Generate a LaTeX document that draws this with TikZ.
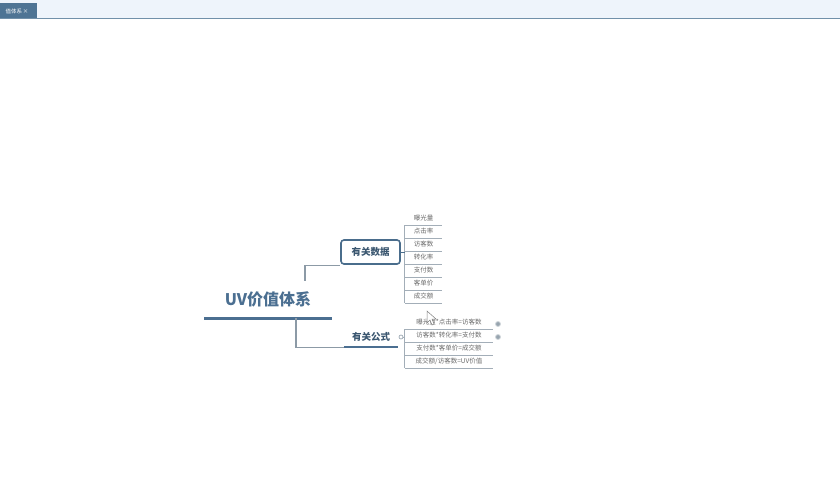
\documentclass[tikz,border=0pt]{standalone}
\usepackage{fontspec}
\newfontfamily\cjk{Noto Sans CJK SC}
\definecolor{tabblue}{HTML}{4E7494}
\definecolor{barblue}{HTML}{EEF4FB}
\definecolor{titleblue}{HTML}{4B6F91}
\definecolor{boxblue}{HTML}{4A6D8C}
\definecolor{conngray}{HTML}{8C9AA6}
\definecolor{leafgray}{HTML}{6A6A6A}
\tikzset{
  conn/.style={draw=conngray, line width=1.1pt},
  leafline/.style={draw=conngray!80, line width=0.8pt},
  leaf/.style={inner sep=0pt, minimum height=13pt, font=\cjk\fontsize{6.5}{7}\selectfont, text=leafgray},
  handle/.style={circle, inner sep=0pt, minimum size=4pt, draw=conngray, fill=white, line width=0.6pt},
}
\begin{document}
\begin{tikzpicture}[x=1pt,y=-1pt]
\useasboundingbox (0,0) rectangle (840,480);
\fill[white] (0,0) rectangle (840,480);
% window tab bar
\fill[barblue] (0,0) rectangle (840,18);
\draw[tabblue!80, line width=1.5pt] (0,18.5) -- (840,18.5);
\fill[tabblue] (0,3) rectangle (37,18);
\node[text=white, font=\cjk\fontsize{5.5}{6}\selectfont, inner sep=0pt] (tab) at (17,11){值体系\,×};
% central topic
\node[inner sep=0pt, minimum width=127pt, minimum height=37pt, font=\cjk\bfseries\fontsize{16}{18}\selectfont, text=titleblue] (root) at (268,299.5){UV价值体系};
\draw[titleblue, line width=2.6pt] (root.south west) -- (root.south east);
% branch topics
\node[draw=boxblue, line width=1.6pt, rounded corners=3pt, minimum width=59pt, minimum height=24pt, inner sep=0pt, font=\cjk\bfseries\fontsize{9.5}{10}\selectfont, text=boxblue!80!black] (data) at (370.5,252){有关数据};
\node[inner sep=0pt, minimum width=54pt, minimum height=20pt, font=\cjk\bfseries\fontsize{9.5}{10}\selectfont, text=boxblue!80!black] (formula) at (371,337){有关公式};
\draw[titleblue, line width=1.6pt] (formula.south west) -- (formula.south east);
\draw[conn] ([xshift=37pt]root.north) |- ([yshift=-1pt]data.south west);
\draw[conn] ([xshift=28pt]root.south) |- (formula.south west);
% data leaves
\node[leaf, minimum width=37pt] (d1) at (423.5,218.5){曝光量};
\node[leaf, minimum width=37pt] (d2) at (423.5,231.5){点击率};
\node[leaf, minimum width=37pt] (d3) at (423.5,244.5){访客数};
\node[leaf, minimum width=37pt] (d4) at (423.5,257.5){转化率};
\node[leaf, minimum width=37pt] (d5) at (423.5,270.5){支付数};
\node[leaf, minimum width=37pt] (d6) at (423.5,283.5){客单价};
\node[leaf, minimum width=37pt] (d7) at (423.5,296.5){成交额};
\draw[leafline](d1.south west) -- (d1.south east);
\draw[leafline](d2.south west) -- (d2.south east);
\draw[leafline](d3.south west) -- (d3.south east);
\draw[leafline](d4.south west) -- (d4.south east);
\draw[leafline](d5.south west) -- (d5.south east);
\draw[leafline](d6.south west) -- (d6.south east);
\draw[leafline](d7.south west) -- (d7.south east);
\draw[leafline](d1.south west) -- (d7.south west);
\coordinate (dj) at (405,252);
\draw[boxblue, line width=1pt](data.east) -- (dj);
% formula leaves
\node[leaf, minimum width=88pt] (f1) at (449,322.5){曝光量*点击率=访客数};
\node[leaf, minimum width=88pt] (f2) at (449,335.5){访客数*转化率=支付数};
\node[leaf, minimum width=88pt] (f3) at (449,348.5){支付数*客单价=成交额};
\node[leaf, minimum width=88pt] (f4) at (449,361.5){成交额/访客数=UV价值};
\draw[leafline](f1.south west) -- (f1.south east);
\draw[leafline](f2.south west) -- (f2.south east);
\draw[leafline](f3.south west) -- (f3.south east);
\draw[leafline](f4.south west) -- (f4.south east);
\draw[leafline](f1.south west) -- (f4.south west);
\node[handle] (fh) at (401,337){};
\coordinate (fj) at (405,337);
\draw[leafline](fh) -- (fj);
\node[circle, inner sep=0pt, minimum size=5pt, fill=conngray!90, draw=conngray!40, line width=0.8pt] (n1) at (498,324){};
\node[circle, inner sep=0pt, minimum size=5pt, fill=conngray!90, draw=conngray!40, line width=0.8pt] (n2) at (498,337){};
% mouse pointer
\draw[gray, fill=white, line width=0.5pt] (427,311) -- (427,323) -- (430,320) -- (432,325) -- (434,324) -- (432,319) -- (436,319) -- cycle;
\end{tikzpicture}
\end{document}
